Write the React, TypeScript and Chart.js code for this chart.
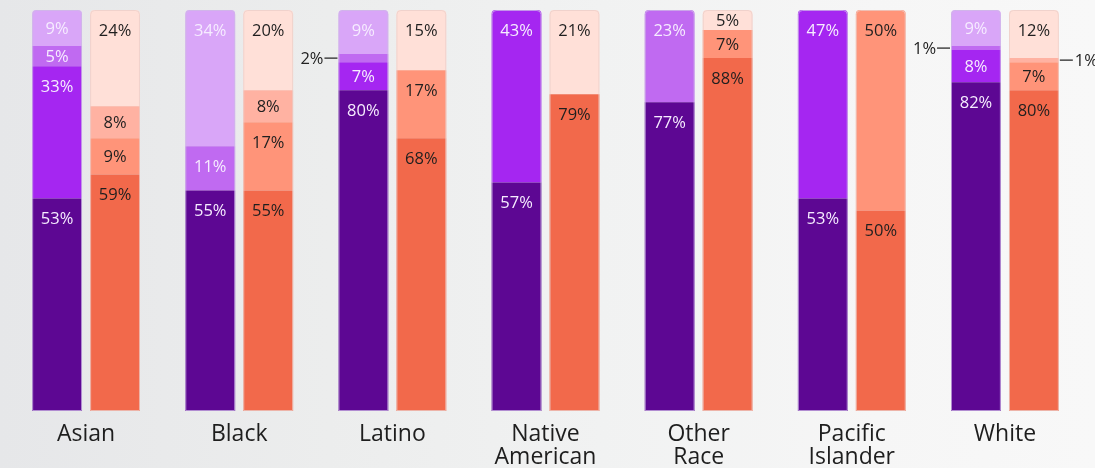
import React, { useEffect, useRef } from "react";
import { Chart, registerables } from "chart.js";

Chart.register(...registerables);

// ---- data ----
const categories: (string | string[])[] = [
  "Asian",
  "Black",
  "Latino",
  ["Native", "American"],
  ["Other", "Race"],
  ["Pacific", "Islander"],
  "White",
];

// purple stack (bottom -> top)
const purpleBase = [53, 55, 80, 57, 77, 53, 82];
const purpleBright = [33, 0, 7, 43, 0, 47, 8];
const purpleMid = [5, 11, 2, 0, 23, 0, 1];
const purpleLight = [9, 34, 11, 0, 0, 0, 9];
const purpleLightShown = [9, 34, 9, 0, 0, 0, 9];

// orange stack (bottom -> top)
const orangeBase = [59, 55, 68, 79, 88, 50, 80];
const orangeMid = [9, 17, 17, 0, 7, 50, 7];
const orangeLight = [8, 8, 0, 0, 0, 0, 1];
const orangeLightest = [24, 20, 15, 21, 5, 0, 12];

const PURPLE_TEXT = "#f6ecff";
const ORANGE_TEXT = "#1f1f1f";
const FONT = "'Open Sans', 'Noto Sans', sans-serif";

const segmentLabels = {
  id: "segmentLabels",
  afterDatasetsDraw(chart: any) {
    const ctx = chart.ctx as CanvasRenderingContext2D;
    ctx.save();
    ctx.font = `16.5px ${FONT}`;
    ctx.textBaseline = "middle";
    chart.data.datasets.forEach((ds: any, di: number) => {
      const meta = chart.getDatasetMeta(di);
      meta.data.forEach((bar: any, i: number) => {
        const v = ds.data[i];
        if (!v) return;
        const shown = (ds.shown || ds.data)[i];
        const { x, y, base, width } = bar.getProps(["x", "y", "base", "width"], true);
        const h = base - y;
        const text = `${shown}%`;
        if (v <= 2) {
          const cy = (y + base) / 2;
          ctx.strokeStyle = "#2a2a2a";
          ctx.lineWidth = 1.3;
          ctx.fillStyle = "#222";
          ctx.beginPath();
          if (ds.stack === "p") {
            const edge = x - width / 2 - 1;
            ctx.moveTo(edge - 13, cy);
            ctx.lineTo(edge, cy);
            ctx.stroke();
            ctx.textAlign = "right";
            ctx.fillText(text, edge - 14, cy + 1);
          } else {
            const edge = x + width / 2 + 1;
            ctx.moveTo(edge, cy);
            ctx.lineTo(edge + 13, cy);
            ctx.stroke();
            ctx.textAlign = "left";
            ctx.fillText(text, edge + 15, cy + 1);
          }
        } else {
          const cy = h < 44 ? (y + base) / 2 : y + 20;
          ctx.fillStyle = ds.stack === "p" ? PURPLE_TEXT : ORANGE_TEXT;
          ctx.textAlign = "center";
          ctx.fillText(text, x, cy + 1);
        }
      });
    });
    ctx.restore();
  },
};

const barOutline = {
  id: "barOutline",
  afterDatasetsDraw(chart: any) {
    const ctx = chart.ctx as CanvasRenderingContext2D;
    ctx.save();
    const n = chart.data.labels.length;
    for (const stack of ["p", "o"]) {
      for (let i = 0; i < n; i++) {
        let top = Infinity;
        let bottom = -Infinity;
        let cx = 0;
        let w = 0;
        chart.data.datasets.forEach((ds: any, di: number) => {
          if (ds.stack !== stack || !ds.data[i]) return;
          const bar = chart.getDatasetMeta(di).data[i];
          const p = bar.getProps(["x", "y", "base", "width"], true);
          top = Math.min(top, p.y);
          bottom = Math.max(bottom, p.base);
          cx = p.x;
          w = p.width;
        });
        if (!isFinite(top)) continue;
        const l = cx - w / 2 + 0.5;
        const r = cx + w / 2 - 0.5;
        const t = top + 0.5;
        const b = bottom - 0.5;
        const rad = 4;
        ctx.beginPath();
        ctx.moveTo(l, b);
        ctx.lineTo(l, t + rad);
        ctx.arcTo(l, t, l + rad, t, rad);
        ctx.lineTo(r - rad, t);
        ctx.arcTo(r, t, r, t + rad, rad);
        ctx.lineTo(r, b);
        ctx.lineTo(l, b);
        ctx.strokeStyle =
          stack === "p" ? "rgba(205,185,230,0.75)" : "rgba(235,205,200,0.75)";
        ctx.lineWidth = 1;
        ctx.stroke();
      }
    }
    ctx.restore();
  },
};

export default function App() {
  const canvasRef = useRef<HTMLCanvasElement | null>(null);

  useEffect(() => {
    if (!canvasRef.current) return;
    const mk = (data: number[], color: string, stack: string, shown?: number[]) => ({
      data,
      backgroundColor: color,
      stack,
      shown,
      borderWidth: 0,
      borderRadius: 4,
      borderSkipped: "start",
      barPercentage: 0.86,
      categoryPercentage: 0.757,
    });
    const chart = new Chart(canvasRef.current, {
      type: "bar",
      data: {
        labels: categories,
        datasets: [
          mk(purpleBase, "#5d0793", "p"),
          mk(purpleBright, "#a526f1", "p"),
          mk(purpleMid, "#c06af1", "p"),
          mk(purpleLight, "#d9a6f8", "p", purpleLightShown),
          mk(orangeBase, "#f2694b", "o"),
          mk(orangeMid, "#ff9479", "o"),
          mk(orangeLight, "#ffb2a2", "o"),
          mk(orangeLightest, "#ffe0d8", "o"),
        ] as any,
      },
      options: {
        animation: false,
        responsive: true,
        maintainAspectRatio: false,
        devicePixelRatio: 1,
        layout: { padding: { top: 10, left: 9.5, right: 13.5, bottom: 0 } },
        plugins: {
          legend: { display: false },
          tooltip: { enabled: false },
        },
        scales: {
          x: {
            stacked: true,
            grid: { display: false, drawTicks: false },
            border: { display: false },
            ticks: {
              color: "#1e1e1e",
              padding: 12,
              maxRotation: 0,
              autoSkip: false,
              font: { family: FONT, size: 23, lineHeight: 1.0 },
            },
            afterFit: (scale: any) => {
              scale.height = 57;
            },
          },
          y: {
            stacked: true,
            display: false,
            min: 0,
            max: 100,
          },
        },
      } as any,
      plugins: [barOutline, segmentLabels],
    });
    return () => chart.destroy();
  }, []);

  return (
    <div
      style={{
        position: "fixed",
        left: 0,
        top: 0,
        width: 1095,
        height: 468,
        background:
          "linear-gradient(90deg, #e6e7e9 0%, #eceded 30%, #f1f2f2 55%, #f6f6f6 80%, #f8f8f8 100%)",
      }}
    >
      <canvas ref={canvasRef} />
    </div>
  );
}
